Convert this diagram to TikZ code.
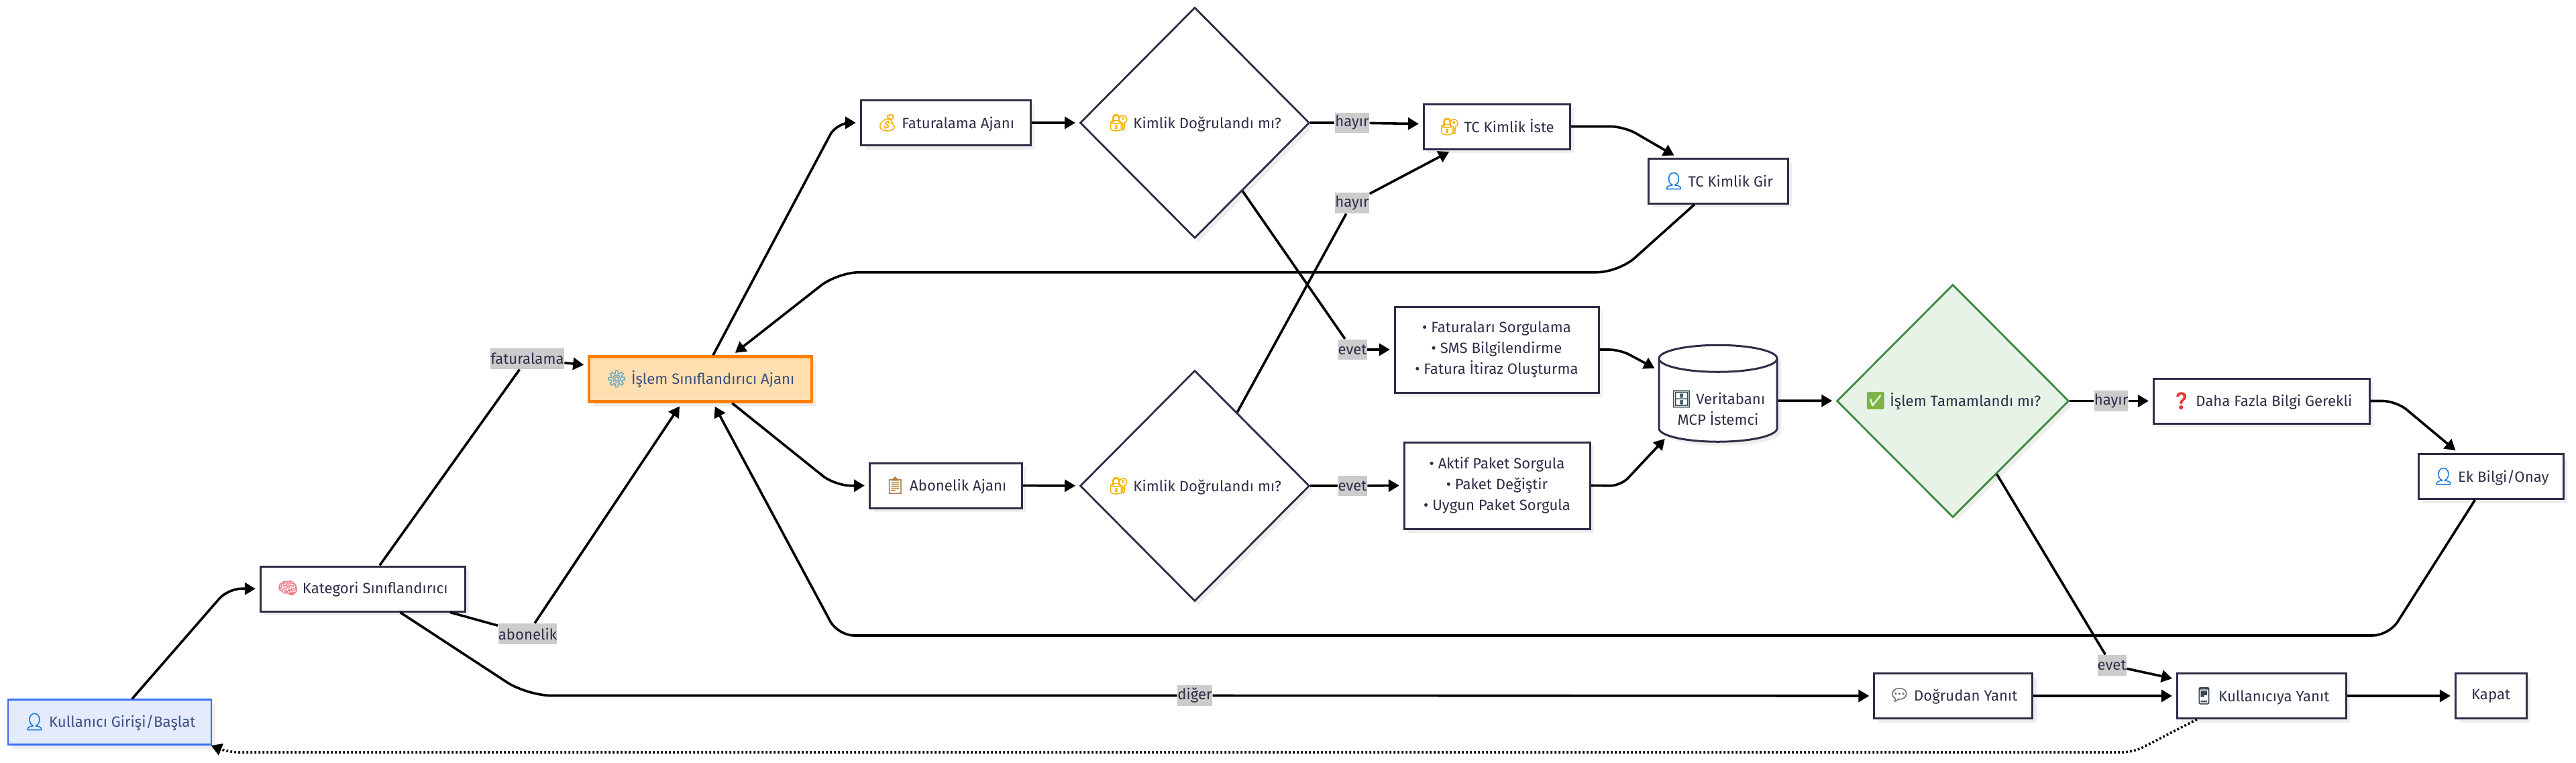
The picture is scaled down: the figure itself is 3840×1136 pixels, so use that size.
\documentclass[tikz,border=0pt]{standalone}
\usepackage{fontspec}
\usepackage{xcolor}
\usetikzlibrary{arrows.meta, shapes.geometric, shadows}
\setmainfont{Fira Sans}
\newfontfamily\emojifont[FakeBold=2, Scale=1.12]{Noto Emoji}
\definecolor{mainink}{HTML}{2E2E48}
\definecolor{softink}{HTML}{3B5082}
\definecolor{shadowgray}{HTML}{EEEEEE}
\definecolor{labelgray}{HTML}{CCCCCC}
\definecolor{startfill}{HTML}{E3EBFD}
\definecolor{startline}{HTML}{3B6FF0}
\definecolor{agentfill}{HTML}{FFDFB0}
\definecolor{agentline}{HTML}{FF8000}
\definecolor{donefill}{HTML}{E8F3E8}
\definecolor{doneline}{HTML}{3A8A3E}
\definecolor{emoblue}{HTML}{1478D4}
\definecolor{emopink}{HTML}{F2808F}
\definecolor{emogear}{HTML}{6FA8C4}
\definecolor{emogold}{HTML}{F5B400}
\definecolor{emoclip}{HTML}{B07A3C}
\definecolor{emocab}{HTML}{35505C}
\definecolor{emocheck}{HTML}{7CB342}
\definecolor{emored}{HTML}{E53935}
\definecolor{emochat}{HTML}{707070}
\definecolor{emophone}{HTML}{37474F}
\newcommand{\emo}[2]{\textcolor{#1}{\emojifont #2}}
\tikzset{
  every node/.append style={font=\fontsize{5.55pt}{7.75pt}\selectfont, text=mainink},
  softshadow/.style={drop shadow={shadow xshift=1.5pt, shadow yshift=-1.5pt, fill=shadowgray, opacity=1}},
  box/.style={draw=mainink, line width=0.75pt, fill=white, minimum height=16.75pt, inner sep=0pt, align=center, softshadow},
  startbox/.style={box, draw=startline, line width=0.6pt, fill=startfill, text=softink},
  agentbox/.style={box, draw=agentline, line width=1.1pt, fill=agentfill, text=softink},
  ask/.style={diamond, draw=mainink, line width=0.7pt, fill=white, minimum width=85.5pt, minimum height=86pt, inner sep=0pt, softshadow},
  store/.style={cylinder, shape border rotate=90, aspect=0.8, draw=mainink, line width=0.75pt, fill=white, minimum width=44pt, minimum height=36pt, inner sep=0pt, softshadow},
  tag/.style={fill=labelgray, inner xsep=0pt, inner ysep=0pt, minimum height=7.6pt},
  link/.style={line width=0.9pt, color=black},
  flow/.style={-{Triangle[length=4pt, width=4.5pt]}, line width=0.9pt, color=black, shorten >=1.4pt},
  dotflow/.style={flow, dash pattern=on 0.7pt off 0.8pt, shorten >=0.2pt}
}
\begin{document}
\begin{tikzpicture}[x=0.25pt, y=-0.25pt]
\path[use as bounding box, fill=white] (0,0) rectangle (3840,1136);

\node[startbox, minimum width=75.75pt] (giris) at (163.5,1076) {\emo{emoblue}{👤} Kullanıcı Girişi/Başlat};
\node[box, minimum width=76.25pt] (kategori) at (540.5,877.5) {\emo{emopink}{🧠} Kategori Sınıflandırıcı};
\node[agentbox, minimum width=83pt] (islem) at (1044,565) {\emo{emogear}{⚙} İşlem Sınıflandırıcı Ajanı};
\node[box, minimum width=63.25pt] (fatajan) at (1409.5,183) {\emo{emogold}{💰} Faturalama Ajanı};
\node[box, minimum width=56.75pt] (aboajan) at (1409.5,723.5) {\emo{emoclip}{📋} Abonelik Ajanı};
\node[ask] (fatkimlik) at (1781,183) {\emo{emogold}{🔐} Kimlik Doğrulandı mı?};
\node[ask] (abokimlik) at (1781,724) {\emo{emogold}{🔐} Kimlik Doğrulandı mı?};
\node[box, minimum width=54.5pt] (tciste) at (2231,188.5) {\emo{emogold}{🔐} TC Kimlik İste};
\node[box, minimum width=52pt] (tcgir) at (2561,269.5) {\emo{emoblue}{👤} TC Kimlik Gir};
\node[box, minimum width=76pt, minimum height=32pt] (fatislem) at (2231,521) {• Faturaları Sorgulama\\• SMS Bilgilendirme\\• Fatura İtiraz Oluşturma};
\node[box, minimum width=69.25pt, minimum height=32.25pt] (paketislem) at (2231.5,723.5) {• Aktif Paket Sorgula\\• Paket Değiştir\\• Uygun Paket Sorgula};
\node[store] (veritabani) at (2561,597) {\rule{12.5pt}{0pt}};
\node[align=center] (dbyazi) at (2561,608) {\emo{emocab}{🗄} Veritabanı\\MCP İstemci};
\node[ask, draw=doneline, fill=donefill, minimum height=86.75pt, minimum width=86.5pt] (tamam) at (2911,597.5) {\emo{emocheck}{✅} İşlem Tamamlandı mı?};
\node[box, minimum width=80.5pt] (dahafazla) at (3371,597.5) {\emo{emored}{❓} Daha Fazla Bilgi Gerekli};
\node[box, minimum width=54pt] (ekbilgi) at (3713,710) {\emo{emoblue}{👤} Ek Bilgi/Onay};
\node[box, minimum width=59pt] (dogrudan) at (2911.5,1037) {\emo{emochat}{💬} Doğrudan Yanıt};
\node[box, minimum width=63pt] (yanit) at (3371,1037) {\emo{emophone}{📱} Kullanıcıya Yanıt};
\node[box, minimum width=26.5pt] (kapat) at (3713,1037) {Kapat};

\node[tag] (tagfat) at (786,534.5) {faturalama};
\node[tag] (tagabo) at (786.5,944.5) {abonelik};
\node[tag] (tagdiger) at (1781,1036.5) {diğer};
\node[tag] (taghayir) at (2015.5,183) {hayır};
\node[tag] (tagyok) at (2015.5,302.5) {hayır};
\node[tag] (tagevet) at (2016,521) {evet};
\node[tag] (tagtamam) at (2016,724) {evet};
\node[tag] (tagek) at (3147,597.5) {hayır};
\node[tag] (tagson) at (3148,991.5) {evet};

\coordinate (bendkat) at (340,877);
\coordinate (benddiger) at (786,1036.5);
\coordinate (bendfat) at (1247,183);
\coordinate (bendabo) at (1245,724);
\coordinate (bendsol) at (1249,405.7);
\coordinate (bendsag) at (2413,405.7);
\coordinate (bendtc) at (2421,188.5);
\coordinate (benddb) at (2415,521);
\coordinate (bendpk) at (2416,724);
\coordinate (bendek) at (3572,597.5);
\coordinate (bendalt) at (1249,947);
\coordinate (bendust) at (3561,947);
\coordinate (bendnokta) at (3180,1121);
\coordinate (bendbas) at (340,1121);

\draw[flow, rounded corners=5pt] (giris.46) -- (bendkat) -- (kategori.west);
\draw[link] (kategori.54) -- (tagfat);
\draw[flow] (tagfat) -- (islem.173);
\draw[link] (kategori.-15) -- (tagabo);
\draw[flow] (tagabo) -- (islem.232);
\draw[link, rounded corners=9pt] (kategori.-32) -- (benddiger) -- (tagdiger);
\draw[flow] (tagdiger) -- (dogrudan.west);
\draw[flow, rounded corners=5pt] (islem.62) -- (bendfat) -- (fatajan.west);
\draw[flow, rounded corners=6pt] (islem.-37) -- (bendabo) -- (aboajan.west);
\draw[flow] (fatajan) -- (fatkimlik);
\draw[flow] (aboajan) -- (abokimlik);
\draw[link] (fatkimlik.east) -- (taghayir);
\draw[flow] (taghayir) -- (tciste.178);
\draw[link] (fatkimlik.-55) -- (tagevet);
\draw[flow] (tagevet) -- (fatislem.west);
\draw[link] (abokimlik.60) -- (tagyok);
\draw[flow] (tagyok) -- (tciste.208);
\draw[link] (abokimlik.east) -- (tagtamam);
\draw[flow] (tagtamam) -- (paketislem.west);
\draw[flow, rounded corners=5pt] (tciste.east) -- (bendtc) -- (tcgir.150);
\draw[flow, rounded corners=8pt] (tcgir.225) -- (bendsag) -- (bendsol) -- (islem.37);
\draw[flow, rounded corners=4pt] (fatislem.east) -- (benddb) -- (veritabani.153);
\draw[flow, rounded corners=4pt] (paketislem.east) -- (bendpk) -- (veritabani.215);
\draw[flow] (veritabani) -- (tamam);
\draw[link] (tamam.east) -- (tagek);
\draw[flow] (tagek) -- (dahafazla.west);
\draw[flow, rounded corners=5pt] (dahafazla.east) -- (bendek) -- (ekbilgi.144);
\draw[flow, rounded corners=6pt] (ekbilgi.236) -- (bendust) -- (bendalt) -- (islem.-62);
\draw[link] (tamam.-59) -- (tagson);
\draw[flow] (tagson) -- (yanit.169);
\draw[flow] (dogrudan) -- (yanit);
\draw[flow] (yanit) -- (kapat);
\draw[dotflow, rounded corners=4pt] (yanit.200) -- (bendnokta) -- (bendbas) -- (giris.-13);
\end{tikzpicture}
\end{document}
